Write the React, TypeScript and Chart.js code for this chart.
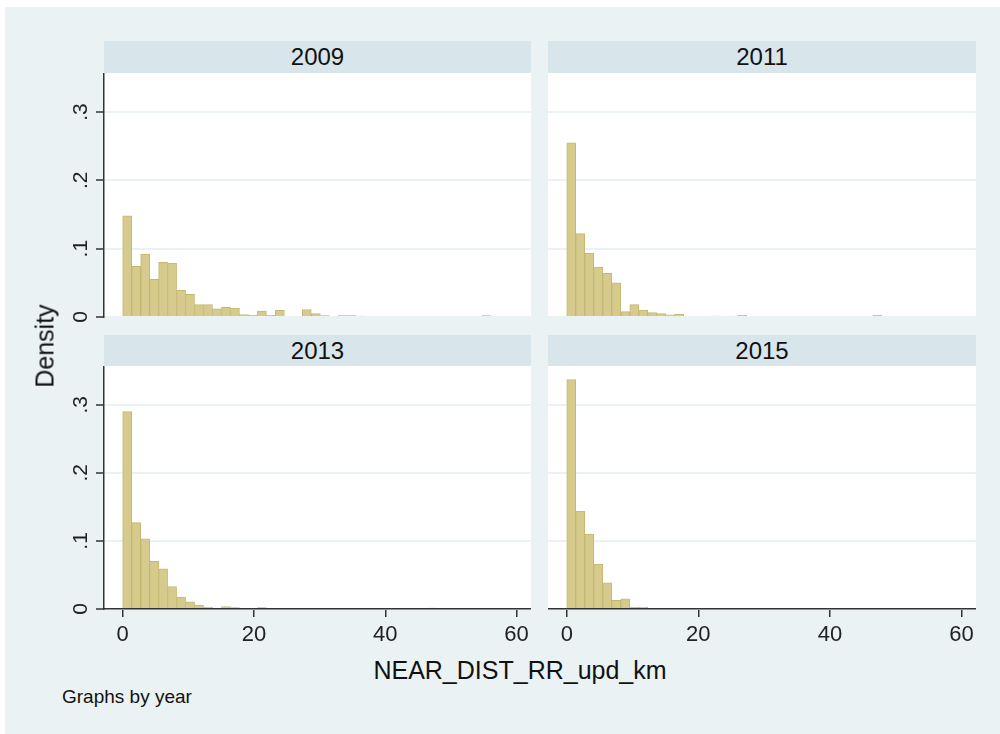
import React, { useEffect, useRef } from 'react';
import { Chart, registerables } from 'chart.js';

Chart.register(...registerables);

// ---------- data ----------
const panelYears = ['2009', '2011', '2013', '2015'];
const binStart = 0;
const binWidth = 1.368;

const density2009 = [
  0.148, 0.074, 0.092, 0.055, 0.080, 0.079, 0.039, 0.033, 0.018, 0.018,
  0.012, 0.014, 0.013, 0.0035, 0.0025, 0.0085, 0.0025, 0.0098, 0, 0,
  0.011, 0.005, 0.002, 0, 0.002, 0.002, 0.0015, 0, 0, 0,
  0, 0, 0, 0, 0, 0, 0, 0, 0, 0,
  0.002,
];
const density2011 = [
  0.255, 0.122, 0.093, 0.073, 0.064, 0.050, 0.0078, 0.018, 0.010, 0.0063,
  0.005, 0.003, 0.0044, 0, 0, 0, 0.0015, 0, 0.0015, 0.0025,
  0, 0, 0, 0, 0, 0, 0, 0, 0, 0,
  0, 0, 0, 0, 0.0025,
];
const density2013 = [
  0.290, 0.127, 0.103, 0.070, 0.059, 0.033, 0.0176, 0.0107, 0.0059, 0.003,
  0, 0.0034, 0.002, 0, 0, 0.002, 0, 0, 0, 0,
  0, 0, 0, 0, 0, 0, 0, 0, 0, 0,
  0, 0, 0, 0, 0.0015,
];
const density2015 = [0.337, 0.144, 0.110, 0.066, 0.0385, 0.0127, 0.015, 0.0025, 0.003];

const xTicks = [0, 20, 40, 60];
const xTickLabels = ['0', '20', '40', '60'];
const yTicks = [0, 0.1, 0.2, 0.3];
const yTickLabels = ['0', '.1', '.2', '.3'];
const xMin = -2.85;
const xMax = 62.2;
const yMin = 0;
const yMax = 0.357;

const xTitle = 'NEAR_DIST_RR_upd_km';
const yTitle = 'Density';
const noteText = 'Graphs by year';

// ---------- styles ----------
const FONT = '"Liberation Sans", Arial, sans-serif';
const BG = '#EAF2F3';
const STRIP = '#D8E5EB';
const BAR_FILL = '#D6CB8D';
const BAR_EDGE = '#C5B870';
const AXIS = '#333333';

const chartAreaFill = {
  id: 'chartAreaFill',
  beforeDraw(chart: any) {
    const { ctx, chartArea } = chart;
    if (!chartArea) return;
    ctx.save();
    ctx.fillStyle = '#ffffff';
    ctx.fillRect(chartArea.left, chartArea.top, chartArea.right - chartArea.left, chartArea.bottom - chartArea.top);
    ctx.restore();
  },
};

type PanelProps = {
  values: number[];
  showX: boolean;
  showY: boolean;
  left: number;
  top: number;
  width: number;
  height: number;
  bottomPad: number;
};

function Panel({ values, showX, showY, left, top, width, height, bottomPad }: PanelProps) {
  const ref = useRef<HTMLCanvasElement | null>(null);

  useEffect(() => {
    if (!ref.current) return;
    const points = values.map((v, i) => ({ x: binStart + (i + 0.5) * binWidth, y: v }));
    const chart = new Chart(ref.current, {
      type: 'bar',
      data: {
        datasets: [
          {
            data: points as any,
            backgroundColor: BAR_FILL,
            borderColor: BAR_EDGE,
            borderWidth: 1,
            borderSkipped: 'start',
            barPercentage: 1,
            categoryPercentage: 1,
          },
        ],
      },
      options: {
        animation: false,
        responsive: false,
        maintainAspectRatio: false,
        layout: { padding: { left: 0, right: 0, top: 0, bottom: bottomPad } },
        plugins: { legend: { display: false }, tooltip: { enabled: false }, title: { display: false } },
        scales: {
          x: {
            type: 'linear',
            min: xMin,
            max: xMax,
            offset: false,
            display: showX,
            afterBuildTicks: (scale: any) => {
              scale.ticks = xTicks.map((v) => ({ value: v }));
            },
            afterFit: (scale: any) => {
              scale.height = showX ? 45 : 0;
              scale.paddingLeft = 0;
              scale.paddingRight = 0;
              scale.paddingTop = 0;
              scale.paddingBottom = 0;
            },
            grid: {
              offset: false,
              drawOnChartArea: false,
              drawTicks: true,
              tickLength: 8,
              tickColor: AXIS,
              tickWidth: 1.5,
              lineWidth: 1.5,
              color: AXIS,
            },
            border: { display: true, color: AXIS, width: 1.5 },
            ticks: {
              autoSkip: false,
              maxRotation: 0,
              minRotation: 0,
              padding: 5,
              color: '#222222',
              font: { family: FONT, size: 22 },
              callback: (value: any) => {
                const i = xTicks.indexOf(Number(value));
                return i >= 0 ? xTickLabels[i] : '';
              },
            },
          },
          y: {
            type: 'linear',
            min: yMin,
            max: yMax,
            display: true,
            afterBuildTicks: (scale: any) => {
              scale.ticks = yTicks.map((v) => ({ value: v }));
            },
            afterFit: (scale: any) => {
              scale.width = showY ? 54 : 0;
              scale.paddingLeft = 0;
              scale.paddingRight = 0;
              scale.paddingTop = 0;
              scale.paddingBottom = 0;
            },
            grid: {
              drawOnChartArea: true,
              drawTicks: showY,
              tickLength: 8,
              tickColor: AXIS,
              tickWidth: 1.5,
              lineWidth: 2,
              color: BG,
            },
            border: { display: showY, color: AXIS, width: 1.5 },
            ticks: {
              display: showY,
              autoSkip: false,
              minRotation: 90,
              maxRotation: 90,
              crossAlign: 'center',
              padding: 6,
              color: '#222222',
              font: { family: FONT, size: 21 },
              callback: (value: any) => {
                const v = Number(value);
                const i = yTicks.findIndex((t) => Math.abs(t - v) < 1e-9);
                return i >= 0 ? yTickLabels[i] : '';
              },
            },
          },
        },
      },
      plugins: [chartAreaFill],
    });
    return () => chart.destroy();
  }, [values, showX, showY, bottomPad]);

  return (
    <canvas
      ref={ref}
      width={width}
      height={height}
      style={{ position: 'absolute', left, top, width, height }}
    />
  );
}

function Strip({ label, left, top, width, height }: { label: string; left: number; top: number; width: number; height: number }) {
  return (
    <div
      style={{
        position: 'absolute',
        left,
        top,
        width,
        height,
        background: STRIP,
        color: '#111111',
        fontFamily: FONT,
        fontSize: 24,
        lineHeight: `${height}px`,
        textAlign: 'center',
      }}
    >
      {label}
    </div>
  );
}

export default function App() {
  const leftX = 50;
  const leftW = 481;
  const rightX = 548;
  const rightW = 428;
  const topY = 73;
  const topH = 244;
  const topPad = 14;
  const botY = 366;
  const botH = 288;

  return (
    <div
      style={{
        position: 'absolute',
        left: 0,
        top: 0,
        width: 1000,
        height: 734,
        background: '#ffffff',
        overflow: 'hidden',
        fontFamily: FONT,
      }}
    >
      <div style={{ position: 'absolute', left: 5, top: 7, width: 995, height: 727, background: BG }} />

      <Strip label={panelYears[0]} left={104} top={41} width={427} height={32} />
      <Strip label={panelYears[1]} left={548} top={41} width={428} height={32} />
      <Strip label={panelYears[2]} left={104} top={335} width={427} height={31} />
      <Strip label={panelYears[3]} left={548} top={335} width={428} height={31} />

      <Panel values={density2009} showX={false} showY={true} left={leftX} top={topY} width={leftW} height={topH + topPad} bottomPad={topPad} />
      <Panel values={density2011} showX={false} showY={false} left={rightX} top={topY} width={rightW} height={topH + topPad} bottomPad={topPad} />
      <Panel values={density2013} showX={true} showY={true} left={leftX} top={botY} width={leftW} height={botH} bottomPad={0} />
      <Panel values={density2015} showX={true} showY={false} left={rightX} top={botY} width={rightW} height={botH} bottomPad={0} />

      <div
        style={{
          position: 'absolute',
          left: 45,
          top: 346,
          transform: 'translate(-50%, -50%) rotate(-90deg)',
          whiteSpace: 'nowrap',
          fontSize: 25,
          color: '#111111',
        }}
      >
        {yTitle}
      </div>

      <div
        style={{
          position: 'absolute',
          left: 520,
          top: 670,
          transform: 'translate(-50%, -50%)',
          whiteSpace: 'nowrap',
          fontSize: 25,
          color: '#111111',
        }}
      >
        {xTitle}
      </div>

      <div
        style={{
          position: 'absolute',
          left: 62,
          top: 697,
          transform: 'translate(0, -50%)',
          whiteSpace: 'nowrap',
          fontSize: 19,
          color: '#111111',
        }}
      >
        {noteText}
      </div>
    </div>
  );
}
